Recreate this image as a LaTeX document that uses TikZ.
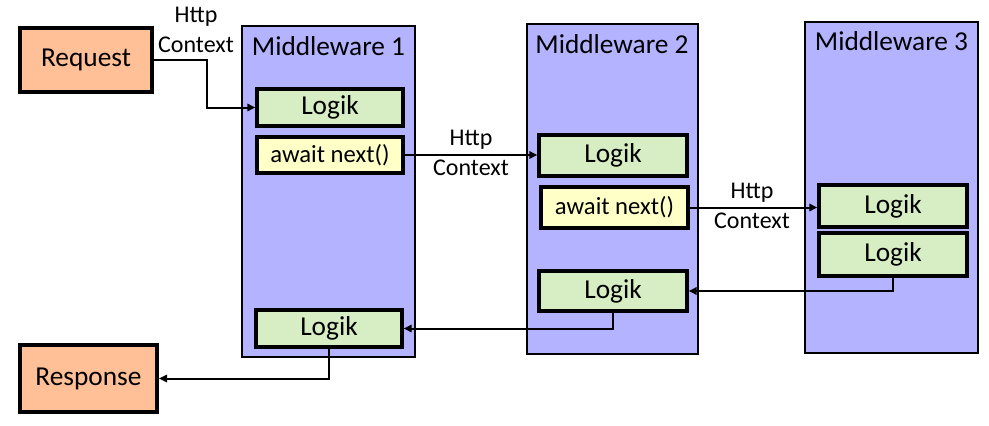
\documentclass[tikz,border=0pt]{standalone}
\usepackage{fontspec}
\setmainfont{Carlito}
\usepackage{tikz}
\usetikzlibrary{positioning,calc}
\usetikzlibrary{arrows.meta}
\definecolor{ReqOrange}{RGB}{255,192,152}
\definecolor{MwLilac}{RGB}{179,179,255}
\definecolor{LogGreen}{RGB}{215,237,196}
\definecolor{AwYellow}{RGB}{255,255,200}
\tikzset{
	endpt/.style={draw=black,fill=ReqOrange,line width=3pt,font=\fontsize{20.5}{24}\selectfont},
	mware/.style={draw=black,fill=MwLilac,line width=1.5pt,minimum width=129.75pt,minimum height=248.25pt},
	logik/.style={draw=black,fill=LogGreen,line width=2.5pt,inner sep=0pt,font=\fontsize{20.5}{24}\selectfont},
	awnext/.style={draw=black,fill=AwYellow,line width=2.5pt,inner sep=0pt,font=\fontsize{18.5}{22}\selectfont},
	mtitle/.style={font=\fontsize{20.5}{24}\selectfont},
	ctxlbl/.style={align=center,font=\fontsize{18}{22}\selectfont},
	flow/.style={draw=black,line width=1.5pt,-{Triangle[length=6pt,width=5.5pt]}},
}

\begin{document}
\begin{tikzpicture}[x=0.75pt,y=-0.75pt]
			\useasboundingbox (0,0) rectangle (989,425);
			% endpoints
			\node[endpt,minimum width=99pt,minimum height=48pt] (req) at (86,59.5) {Request};
			\node[endpt,minimum width=102.75pt,minimum height=50.25pt] (resp) at (88.5,378.5) {Response};
			% middleware columns
			\node[mware] (mw1) at (328.5,191.5) {};
			\node[mware,minimum width=128.25pt,minimum height=247.5pt] (mw2) at (612,189) {};
			\node[mware] (mw3) at (891.5,187) {};
			\node[mtitle,below=5pt of mw1.north] (t1) {Middleware 1};
			\node[mtitle,below=5pt of mw2.north] (t2) {Middleware 2};
			\node[mtitle,below=5pt of mw3.north] (t3) {Middleware 3};
			% Middleware 1
			\node[logik,minimum width=109.5pt,minimum height=27.75pt] (l1a) at (330,107.5) {Logik};
			\node[awnext,minimum width=109.5pt,minimum height=27pt] (aw1) at (330,155) {await next()};
			\node[logik,minimum width=109.5pt,minimum height=27.75pt] (l1b) at (329,328.5) {Logik};
			% Middleware 2
			\node[logik,minimum width=111pt,minimum height=30.75pt] (l2a) at (613,155.5) {Logik};
			\node[awnext,minimum width=110.25pt,minimum height=30.75pt] (aw2) at (614.5,207.5) {await next()};
			\node[logik,minimum width=111pt,minimum height=30pt] (l2b) at (613,291) {Logik};
			% Middleware 3
			\node[logik,minimum width=111pt,minimum height=31.5pt] (l3a) at (893,206) {Logik};
			\node[logik,minimum width=111pt,minimum height=32.25pt] (l3b) at (893,254.5) {Logik};
			% forward path
			\draw[flow] (req.east) -- ++(53,0) |- (l1a.west);
			\draw[flow] (aw1.east) -- (aw1.east -| l2a.west);
			\draw[flow] (aw2.east) -- (aw2.east -| l3a.west);
			\node[ctxlbl] (c1) at (196,30) {Http\\Context};
			\node[ctxlbl] (c2) at (471,153) {Http\\Context};
			\node[ctxlbl] (c3) at (752,206) {Http\\Context};
			% way back
			\draw[flow] (l3b.south) |- (l2b.east);
			\draw[flow] (l2b.south) |- (l1b.east);
			\draw[flow] (l1b.south) |- (resp.east);
		\end{tikzpicture}
\end{document}
